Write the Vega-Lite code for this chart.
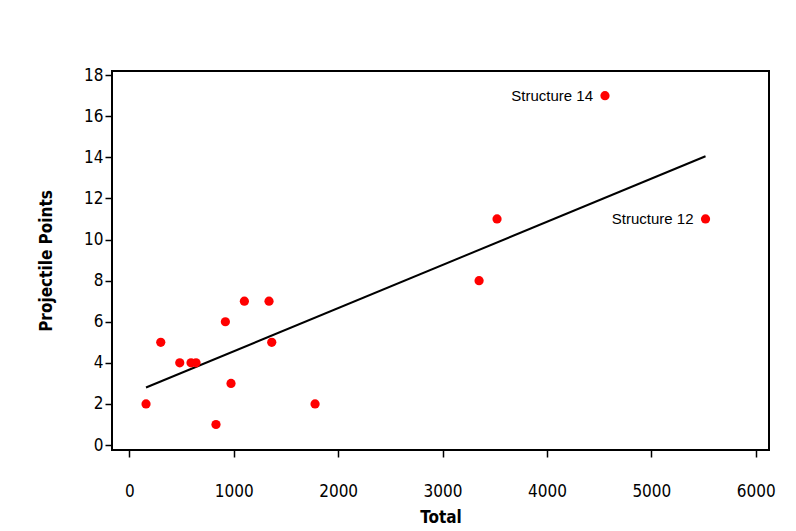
{
  "$schema": "https://vega.github.io/schema/vega-lite/v6.json",
  "width": 657,
  "height": 379,
  "autosize": {"type": "none"},
  "padding": {"left": 112, "top": 71, "right": 27, "bottom": 81},
  "background": "white",
  "config": {
    "view": {"stroke": "black", "strokeWidth": 2},
    "axis": {
      "domain": false,
      "grid": false,
      "tickColor": "black",
      "tickSize": 7,
      "tickWidth": 1.5,
      "labelFont": "DejaVu Sans Condensed, DejaVu Sans",
      "labelFontSize": 17,
      "labelColor": "black",
      "titleFont": "DejaVu Sans Condensed, DejaVu Sans",
      "titleFontSize": 17,
      "titleFontWeight": "bold",
      "titleColor": "black"
    }
  },
  "data": {
    "values": [
      {"total": 160, "points": 2, "label": ""},
      {"total": 301, "points": 5, "label": ""},
      {"total": 483, "points": 4, "label": ""},
      {"total": 591, "points": 4, "label": ""},
      {"total": 639, "points": 4, "label": ""},
      {"total": 830, "points": 1, "label": ""},
      {"total": 920, "points": 6, "label": ""},
      {"total": 974, "points": 3, "label": ""},
      {"total": 1102, "points": 7, "label": ""},
      {"total": 1338, "points": 7, "label": ""},
      {"total": 1364, "points": 5, "label": ""},
      {"total": 1779, "points": 2, "label": ""},
      {"total": 3350, "points": 8, "label": ""},
      {"total": 3522, "points": 11, "label": ""},
      {"total": 4556, "points": 17, "label": "Structure 14"},
      {"total": 5519, "points": 11, "label": "Structure 12"}
    ]
  },
  "encoding": {
    "x": {
      "field": "total",
      "type": "quantitative",
      "title": "Total",
      "scale": {"domain": [-166, 6127], "nice": false, "zero": false},
      "axis": {"values": [0, 1000, 2000, 3000, 4000, 5000, 6000], "format": "d", "labelPadding": 26, "titlePadding": 10}
    },
    "y": {
      "field": "points",
      "type": "quantitative",
      "title": "Projectile Points",
      "scale": {"domain": [-0.24, 18.2], "nice": false, "zero": false},
      "axis": {"values": [0, 2, 4, 6, 8, 10, 12, 14, 16, 18], "format": "d", "labelPadding": 2, "titlePadding": 28}
    }
  },
  "layer": [
    {
      "transform": [{"regression": "points", "on": "total"}],
      "mark": {"type": "line", "color": "black", "strokeWidth": 2}
    },
    {
      "mark": {"type": "circle", "color": "#ff0000", "opacity": 1, "size": 85}
    },
    {
      "mark": {"type": "text", "align": "right", "baseline": "middle", "dx": -12, "font": "Liberation Sans", "fontSize": 15, "color": "black"},
      "encoding": {"text": {"field": "label"}}
    }
  ]
}
